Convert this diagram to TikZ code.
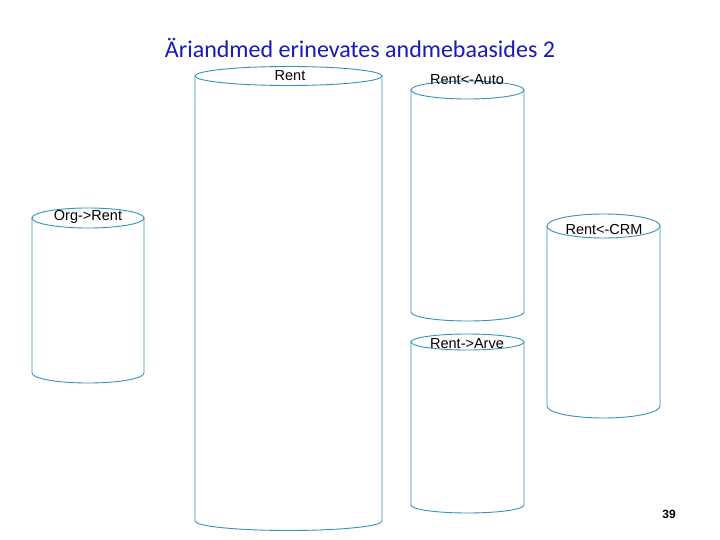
\documentclass[tikz,border=0pt]{standalone}
\usepackage{fontspec}
\setmainfont{Liberation Sans}
\newfontfamily\titlefont{Carlito}
\definecolor{cylcol}{RGB}{55,145,185}
\definecolor{titleblue}{RGB}{25,25,190}
\tikzset{
  cylline/.style={draw=cylcol,fill=white,line width=0.9pt},
  lbl/.style={font=\fontsize{14.5}{16}\selectfont,inner sep=0pt},
  ttl/.style={font=\titlefont\fontsize{24}{28}\selectfont,text=titleblue,inner sep=0pt},
  pnum/.style={font=\bfseries\fontsize{12}{14}\selectfont,inner sep=0pt}
}
\newcommand\mycyl[6]{%
  \pgfmathsetmacro\cx{(#2+#3)/2}%
  \pgfmathsetmacro\rx{(#3-#2)/2}%
  \filldraw[cylline] (#2,-#4) -- (#2,-#5) arc[start angle=180,end angle=360,x radius=\rx pt,y radius=#6 pt] -- (#3,-#4) -- cycle;
  \filldraw[cylline] (\cx,-#4) ellipse[x radius=\rx pt,y radius=#6 pt];
  \coordinate (#1) at (\cx,-#4);
}
\begin{document}
\begin{tikzpicture}[x=1pt,y=1pt]
\useasboundingbox (0,0) rectangle (720,-540);
\fill[white] (0,0) rectangle (720,-540);
\node[ttl] (title) at (360,-48) {Äriandmed erinevates andmebaasides 2};
\mycyl{crent}{195}{382}{76}{521}{9.5}
\mycyl{cauto}{411}{524}{90}{312}{9}
\mycyl{carve}{411}{524}{342}{505}{8}
\mycyl{corg}{32}{144}{218}{373}{10}
\mycyl{ccrm}{547}{660}{226}{406}{12}
\node[lbl] (lrent) at (290,-76) {Rent};
\node[lbl] (lauto) at (467,-80) {Rent<-Auto};
\node[lbl] (lorg) at (88,-217) {Org->Rent};
\node[lbl] (lcrm) at (604,-230) {Rent<-CRM};
\node[lbl] (larve) at (467,-344) {Rent->Arve};
\node[pnum] (page) at (669,-514) {39};
\end{tikzpicture}
\end{document}
